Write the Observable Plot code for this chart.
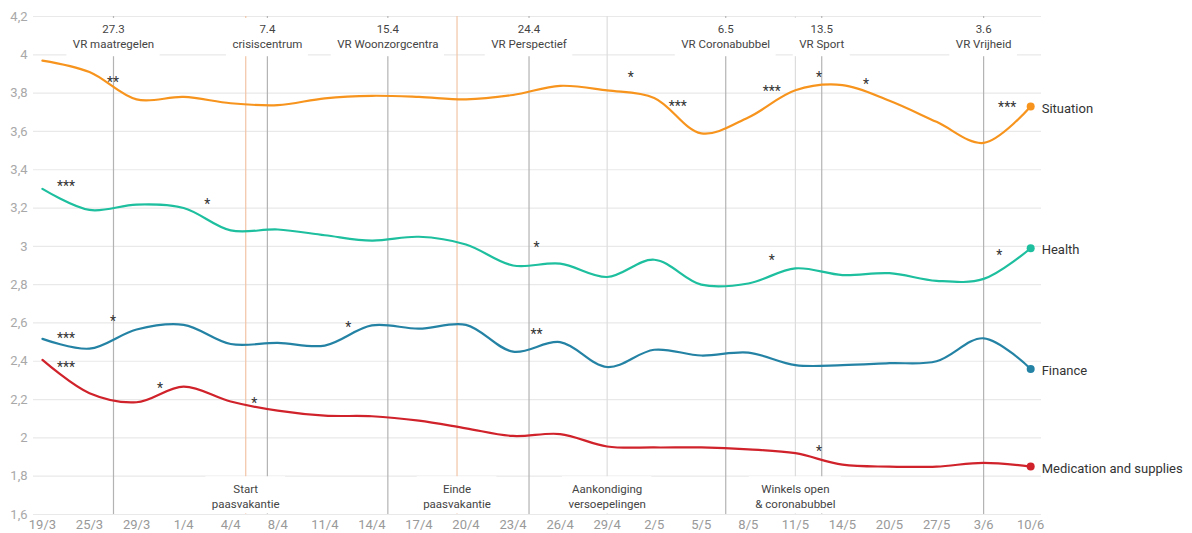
<!DOCTYPE html>
<html><head><meta charset="utf-8">
<script src="https://cdn.jsdelivr.net/npm/d3@7"></script>
<script src="https://cdn.jsdelivr.net/npm/@observablehq/plot@0.6"></script>
<style>
body{margin:0;background:#fff;font-family:Roboto,sans-serif;}
#chart svg{display:block;}
</style></head><body><div id="chart"></div>
<script>
// ---- data ----
const dates = ["19/3","25/3","29/3","1/4","4/4","8/4","11/4","14/4","17/4","20/4","23/4","26/4","29/4","2/5","5/5","8/5","11/5","14/5","20/5","27/5","3/6","10/6"];
const seriesNames = ["Situation","Health","Finance","Medication and supplies"];
const seriesColors = ["#f7941d","#1dbf9f","#2483a5","#d0222a"];
const situation  = [3.97,3.91,3.767,3.78,3.747,3.737,3.773,3.786,3.78,3.767,3.79,3.838,3.814,3.775,3.59,3.673,3.815,3.842,3.76,3.65,3.54,3.73];
const health     = [3.30,3.19,3.218,3.20,3.083,3.088,3.058,3.03,3.05,3.01,2.90,2.91,2.84,2.93,2.80,2.806,2.885,2.85,2.86,2.82,2.83,2.99];
const finance    = [2.517,2.466,2.566,2.59,2.49,2.496,2.482,2.587,2.57,2.59,2.45,2.50,2.37,2.46,2.43,2.445,2.38,2.38,2.39,2.40,2.52,2.36];
const medication = [2.407,2.233,2.186,2.268,2.19,2.142,2.116,2.113,2.09,2.05,2.01,2.02,1.955,1.95,1.95,1.94,1.92,1.86,1.85,1.85,1.87,1.85];
const seriesValues = [situation, health, finance, medication];

// significance markers (position between waves, value, text)
const starPos  = [1.5,12.5,13.5,15.5,16.5,17.5,20.5, 0.5,3.5,10.5,15.5,20.33, 0.5,1.5,6.5,10.5, 0.5,2.5,4.5,16.5];
const starVal  = [3.878,3.901,3.749,3.828,3.901,3.866,3.747, 3.335,3.239,3.015,2.947,2.975, 2.538,2.627,2.599,2.561, 2.390,2.277,2.199,1.950];
const starText = ["**","*","***","***","*","*","***", "***","*","*","*","*", "***","*","*","**", "***","*","*","*"];

// events: top (VR decisions) and bottom
const topEventPos  = [1.51,4.78,7.34,10.34,14.52,16.56,20];
const topEventDate = ["27.3","7.4","15.4","24.4","6.5","13.5","3.6"];
const topEventName = ["VR maatregelen","crisiscentrum","VR Woonzorgcentra","VR Perspectief","VR Coronabubbel","VR Sport","VR Vrijheid"];
const bottomEventPos   = [4.32,8.81,12.0,16.0];
const bottomEventLabel = ["Start\npaasvakantie","Einde\npaasvakantie","Aankondiging\nversoepelingen","Winkels open\n& coronabubbel"];
const bottomEventKind  = ["holiday","holiday","other","other"];

const yTicks = [1.6,1.8,2,2.2,2.4,2.6,2.8,3,3.2,3.4,3.6,3.8,4,4.2];

// ---- layout ----
const W = 1192, H = 533, ml = 33, mr = 151, mt = 16, mb = 19;
const xDomain = [-0.19, 21.23];
const pxPerIdx = (W - ml - mr) / (xDomain[1] - xDomain[0]);
const ctx = document.createElement("canvas").getContext("2d");
function textW(s, size) {
  ctx.font = `${size}px Roboto`;
  return Math.max(...s.split("\n").map(l => ctx.measureText(l).width));
}
const evFont = 11.5;

const seriesData = seriesNames.flatMap((name, k) => seriesValues[k].map((v, i) => ({name, i, v})));
const lastPoints = seriesNames.map((name, k) => ({name, i: dates.length - 1, v: seriesValues[k][dates.length - 1]}));
const stars = starPos.map((p, j) => ({p, v: starVal[j], t: starText[j]}));
const topEvents = topEventPos.map((p, j) => ({p, label: topEventDate[j] + "\n" + topEventName[j]}));
const bottomEvents = bottomEventPos.map((p, j) => ({p, label: bottomEventLabel[j], kind: bottomEventKind[j]}));
const halfW = d => (textW(d.label, evFont) / 2 + 6) / pxPerIdx;

const fmt = v => String(+v.toFixed(1)).replace(".", ",");

const chart = Plot.plot({
  width: W, height: H,
  marginLeft: ml, marginRight: mr, marginTop: mt, marginBottom: mb,
  style: {fontFamily: "Roboto, sans-serif", background: "#fff"},
  x: {domain: xDomain},
  y: {domain: [1.6, 4.2]},
  color: {domain: seriesNames, range: seriesColors},
  marks: [
    Plot.ruleY(yTicks, {stroke: "#e9e9e9", strokeWidth: 1.2}),
    Plot.ruleX(topEvents, {x: "p", y1: 1.6, y2: 4.2, stroke: "#b3b3b3", strokeWidth: 1.2}),
    Plot.ruleX(bottomEvents.filter(d => d.kind === "other"), {x: "p", y1: 1.6, y2: 4.2, stroke: "#dddddd", strokeWidth: 1.2}),
    Plot.ruleX(bottomEvents.filter(d => d.kind === "holiday"), {x: "p", y1: 1.6, y2: 4.2, stroke: "#f2c4a6", strokeWidth: 1.2}),
    Plot.rect(topEvents, {x1: d => d.p - halfW(d), x2: d => d.p + halfW(d), y1: 3.99, y2: 4.19, fill: "white"}),
    Plot.rect(bottomEvents, {x1: d => d.p - halfW(d), x2: d => d.p + halfW(d), y1: 1.603, y2: 1.797, fill: "white"}),
    Plot.text(topEvents, {x: "p", y: 4.1, text: "label", fontSize: evFont, fill: "#444", lineHeight: 1.3}),
    Plot.text(bottomEvents, {x: "p", y: 1.7, text: "label", fontSize: evFont, fill: "#444", lineHeight: 1.3}),
    Plot.line(seriesData, {x: "i", y: "v", z: "name", stroke: "name", curve: "catmull-rom", strokeWidth: 2.2}),
    Plot.dot(lastPoints, {x: "i", y: "v", fill: "name", r: 4}),
    Plot.text(lastPoints, {x: "i", y: "v", text: "name", dx: 11, dy: 2, textAnchor: "start", fontSize: 13, fill: "#333"}),
    Plot.text(stars, {x: "p", y: "v", text: "t", fontSize: 14, fill: "#333", dy: 4}),
    Plot.axisY(yTicks, {tickSize: 0, tickPadding: 6, tickFormat: fmt, fill: "#a8a8a8", fontSize: 13, label: null}),
    Plot.axisX(d3.range(dates.length), {tickSize: 0, tickPadding: 5, tickFormat: i => dates[i], fill: "#999", fontSize: 13, label: null})
  ]
});
document.getElementById("chart").appendChild(chart);
</script>
</body></html>
